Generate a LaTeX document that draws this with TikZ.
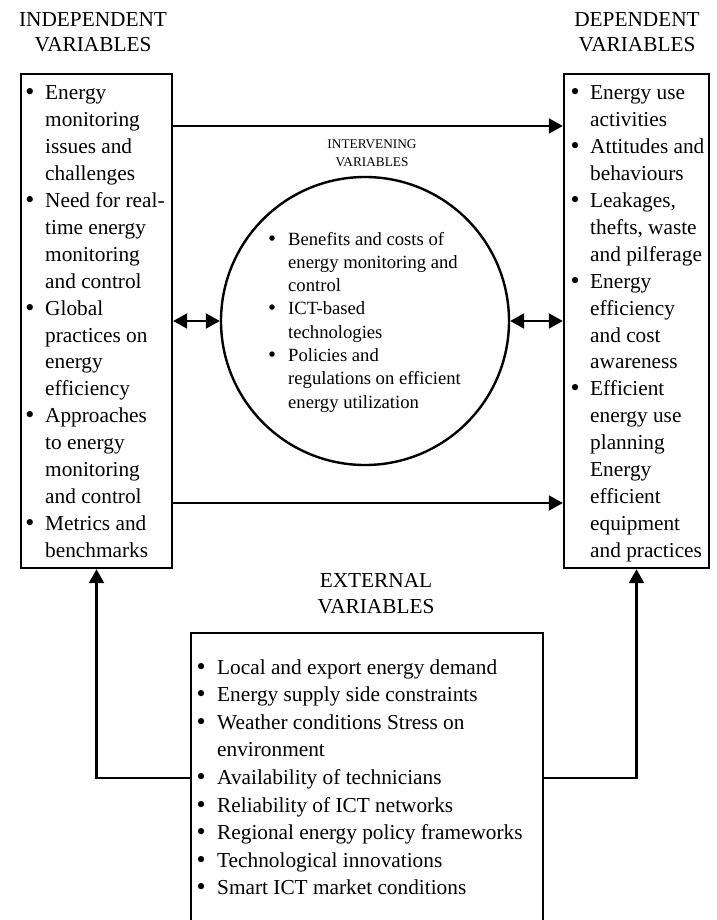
\documentclass[tikz,border=0pt]{standalone}
\usepackage{fontspec}
\setmainfont{Liberation Serif}
\newfontfamily\bulfont{DejaVu Sans}
\usetikzlibrary{arrows.meta}

\newcommand{\blt}{\makebox[8pt]{\bulfont\textbullet}}

\begin{document}
\begin{tikzpicture}[x=1pt, y=-1pt,
  vbox/.style={draw, line width=2.4pt, inner sep=0pt},
  hdr/.style={font=\fontsize{21.3}{25}\selectfont, align=center, inner sep=0pt},
  lst/.style={anchor=base west, inner sep=0pt},
  arr/.style={line width=2.2pt, -{Triangle[length=14pt,width=15pt]}},
  dbl/.style={line width=2.2pt, {Triangle[length=14pt,width=15pt]}-{Triangle[length=14pt,width=15pt]}}
]
  \fill[white] (0,0) rectangle (716,920);
  \useasboundingbox (0,0) rectangle (716,920);
  \clip (0,0) rectangle (716,920);

  %% Headers
  \node[hdr] (indephdr) at (93,32.5) {INDEPENDENT\\VARIABLES};
  \node[hdr] (dephdr)   at (637,32.5) {DEPENDENT\\VARIABLES};
  \node[hdr, font=\fontsize{13.3}{18}\selectfont] (intvhdr) at (372,153.4) {INTERVENING\\VARIABLES};
  \node[hdr, font=\fontsize{21.3}{26}\selectfont] (exthdr)  at (376,594) {EXTERNAL\\VARIABLES};

  %% Boxes and circle
  \node[vbox, minimum width=151pt, minimum height=494pt] (indep)  at (96.5,321) {};
  \node[vbox, minimum width=145pt, minimum height=494pt] (dep)    at (636.5,321) {};
  \node[vbox, circle, minimum size=288pt]                (interv) at (365,321) {};
  \node[vbox, minimum width=352pt, minimum height=290pt] (ext)    at (367,778) {};

  %% Independent variables
  \node[lst, font=\fontsize{21.3}{26.9}\selectfont] (indeplist) at (25.7,100) {\begin{tabular}[t]{@{}l@{\hspace{11.3pt}}l@{}}
    \blt & Energy\\
         & monitoring\\
         & issues and\\
         & challenges\\
    \blt & Need for real-\\
         & time energy\\
         & monitoring\\
         & and control\\
    \blt & Global\\
         & practices on\\
         & energy\\
         & efficiency\\
    \blt & Approaches\\
         & to energy\\
         & monitoring\\
         & and control\\
    \blt & Metrics and\\
         & benchmarks
  \end{tabular}};

  %% Dependent variables
  \node[lst, font=\fontsize{21.3}{26.9}\selectfont] (deplist) at (571,100) {\begin{tabular}[t]{@{}l@{\hspace{11pt}}l@{}}
    \blt & Energy use\\
         & activities\\
    \blt & Attitudes and\\
         & behaviours\\
    \blt & Leakages,\\
         & thefts, waste\\
         & and pilferage\\
    \blt & Energy\\
         & efficiency\\
         & and cost\\
         & awareness\\
    \blt & Efficient\\
         & energy use\\
         & planning\\
         & Energy\\
         & efficient\\
         & equipment\\
         & and practices
  \end{tabular}};

  %% Intervening variables
  \node[lst, font=\fontsize{18.65}{23.3}\selectfont] (intvlist) at (268,245) {\begin{tabular}[t]{@{}l@{\hspace{12pt}}l@{}}
    \blt & Benefits and costs of\\
         & energy monitoring and\\
         & control\\
    \blt & ICT-based\\
         & technologies\\
    \blt & Policies and\\
         & regulations on efficient\\
         & energy utilization
  \end{tabular}};

  %% External variables
  \node[lst, font=\fontsize{21.3}{27.6}\selectfont] (extlist) at (197,674) {\begin{tabular}[t]{@{}l@{\hspace{12pt}}l@{}}
    \blt & Local and export energy demand\\
    \blt & Energy supply side constraints\\
    \blt & Weather conditions Stress on\\
         & environment\\
    \blt & Availability of technicians\\
    \blt & Reliability of ICT networks\\
    \blt & Regional energy policy frameworks\\
    \blt & Technological innovations\\
    \blt & Smart ICT market conditions
  \end{tabular}};

  %% Connectors
  \draw[arr] (indep.east |- 0,126) -- (dep.west |- 0,126);
  \draw[arr] (indep.east |- 0,503) -- (dep.west |- 0,503);
  \draw[dbl] (indep.east |- interv.west) -- (interv.west);
  \draw[dbl] (interv.east) -- (dep.west |- interv.east);
  \draw[arr] (ext.west) -| (indep.south);
  \draw[arr] (ext.east) -| (dep.south);
\end{tikzpicture}
\end{document}
